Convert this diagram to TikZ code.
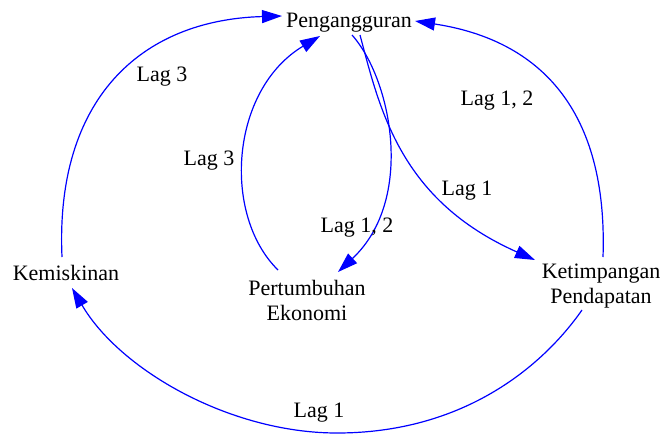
\documentclass[tikz,border=0pt]{standalone}
\usepackage{fontspec}
\newfontfamily\tms{Liberation Serif}
\usetikzlibrary{arrows.meta,calc}
\begin{document}
\begin{tikzpicture}[x=1pt,y=-1pt,
  lbl/.style={anchor=base,inner sep=0pt,font=\tms\fontsize{22}{25}\selectfont},
  conn/.style={draw=blue,line width=1.2pt,-{Triangle[length=20pt,width=13pt]}}]
\useasboundingbox (0,0) rectangle (663,434);
\node[lbl] (peng) at (349,27) {Pengangguran};
\node[lbl] (kem) at (66,280) {Kemiskinan};
\node[lbl,align=center] (pert) at (307,320) {Pertumbuhan\\Ekonomi};
\node[lbl,align=center] (ket) at (601,303) {Ketimpangan\\Pendapatan};
% edges
\draw[conn] ($(kem.base)+(-4,-23)$) .. controls (55,100) and (140,20) .. ($(peng.base)+(-67,-11)$);
\draw[conn] ($(pert.base)+(-29,-50)$) .. controls (222,215) and (230,90) .. ($(peng.base)+(-29,9)$);
\draw[conn] ($(peng.base)+(3,8)$) .. controls (392,80) and (415,200) .. ($(pert.base)+(31,-48)$);
\draw[conn] ($(peng.base)+(11,8)$) .. controls (380,110) and (400,200) .. ($(ket.base)+(-66,-43)$);
\draw[conn] ($(ket.base)+(2,-46)$) .. controls (608,110) and (540,40) .. ($(peng.base)+(66,-6)$);
\coordinate (bot) at (337,433);
\draw[conn] ($(ket.base)+(-19,7)$) .. controls (540,370) and (460,433) .. (bot) .. controls (230,433) and (120,370) .. ($(kem.base)+(6,8)$);
% labels
\node[lbl] (l1) at (162,81) {Lag 3};
\node[lbl] (l2) at (209,165) {Lag 3};
\node[lbl] (l3) at (357,232) {Lag 1, 2};
\node[lbl] (l4) at (467,195) {Lag 1};
\node[lbl] (l5) at (497,105) {Lag 1, 2};
\node[lbl] (l6) at (319,417) {Lag 1};
\end{tikzpicture}
\end{document}
